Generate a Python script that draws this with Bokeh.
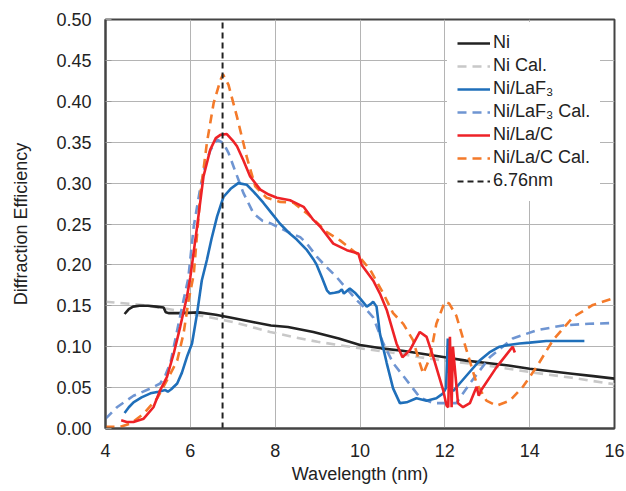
from bokeh.plotting import figure
from bokeh.models import (Range1d, FixedTicker, NumeralTickFormatter, Legend, LegendItem)
from bokeh.embed import file_html
from bokeh.resources import INLINE

# ---------------- data ----------------
ni_x = [4.45, 4.55, 4.65, 4.8, 5.0, 5.2, 5.37, 5.42, 5.5, 5.8, 6.2, 6.6, 7.0, 7.5, 7.9,
        8.3, 8.9, 9.5, 10.0, 10.5, 11.0, 11.5, 12.0, 12.5, 13.0, 13.5, 14.0, 14.5, 15.0,
        15.5, 16.0]
ni_y = [0.140, 0.146, 0.149, 0.150, 0.150, 0.149, 0.148, 0.142, 0.141, 0.141, 0.142,
        0.139, 0.135, 0.130, 0.126, 0.124, 0.118, 0.110, 0.102, 0.098, 0.095, 0.091,
        0.087, 0.083, 0.080, 0.077, 0.073, 0.070, 0.067, 0.064, 0.061]

nical_x = [4.0, 4.66, 5.0, 5.84, 6.24, 7.02, 7.88, 8.5, 9.0, 10.0, 11.0, 11.41, 12.0,
           13.0, 14.0, 15.0, 16.0]
nical_y = [0.155, 0.152, 0.150, 0.143, 0.138, 0.130, 0.118, 0.111, 0.106, 0.098, 0.091,
           0.087, 0.083, 0.077, 0.069, 0.062, 0.054]

laf3_x = [4.45, 4.55, 4.66, 4.85, 5.06, 5.25, 5.41, 5.47, 5.55, 5.69, 5.8, 5.93, 6.04,
          6.16, 6.27, 6.39, 6.5, 6.63, 6.78, 6.95, 7.13, 7.33, 7.5, 7.72, 7.92, 8.12,
          8.35, 8.51, 8.75, 8.9, 8.98, 9.1, 9.22, 9.29, 9.4, 9.5, 9.57, 9.62, 9.76, 9.88,
          10.0, 10.16, 10.25, 10.31, 10.39, 10.47, 10.55, 10.63, 10.78, 10.94, 11.1,
          11.33, 11.57, 11.8, 11.96, 12.03, 12.07, 12.12, 12.2, 12.35, 12.6, 12.82, 13.05,
          13.29, 13.5, 13.76, 14.0, 14.39, 14.8, 15.29]
laf3_y = [0.019, 0.026, 0.032, 0.038, 0.043, 0.045, 0.047, 0.045, 0.048, 0.055, 0.068,
          0.089, 0.104, 0.141, 0.181, 0.206, 0.232, 0.259, 0.283, 0.293, 0.300, 0.298,
          0.289, 0.276, 0.263, 0.250, 0.238, 0.231, 0.218, 0.207, 0.200, 0.185, 0.169,
          0.165, 0.166, 0.167, 0.170, 0.165, 0.171, 0.166, 0.159, 0.149, 0.152, 0.155,
          0.149, 0.116, 0.098, 0.080, 0.049, 0.031, 0.032, 0.037, 0.034, 0.037, 0.043,
          0.050, 0.110, 0.050, 0.046, 0.055, 0.070, 0.083, 0.093, 0.100, 0.102, 0.104,
          0.105, 0.107, 0.107, 0.107]

laf3cal_x = [4.0, 4.04, 4.27, 4.66, 5.06, 5.29, 5.41, 5.53, 5.69, 5.84, 5.95, 6.08, 6.24,
             6.35, 6.47, 6.63, 6.78, 6.9, 7.02, 7.25, 7.49, 7.7, 7.88, 8.12, 8.35, 8.59,
             8.75, 8.98, 9.2, 9.45, 9.7, 9.92, 10.1, 10.31, 10.55, 10.78, 11.1, 11.41,
             11.73, 12.04, 12.27, 12.59, 13.06, 13.6, 14.16, 14.78, 15.4, 16.0]
laf3cal_y = [0.012, 0.014, 0.026, 0.040, 0.049, 0.055, 0.065, 0.080, 0.120, 0.157, 0.183,
             0.247, 0.296, 0.322, 0.340, 0.353, 0.349, 0.337, 0.320, 0.288, 0.263, 0.254,
             0.251, 0.245, 0.239, 0.234, 0.226, 0.210, 0.198, 0.185, 0.170, 0.157, 0.148,
             0.136, 0.104, 0.080, 0.059, 0.038, 0.031, 0.031, 0.031, 0.055, 0.087, 0.110,
             0.120, 0.126, 0.128, 0.129]

lac_x = [4.37, 4.5, 4.66, 4.9, 5.13, 5.29, 5.45, 5.61, 5.76, 5.92, 6.0, 6.16, 6.31, 6.47,
         6.6, 6.71, 6.86, 7.0, 7.1, 7.25, 7.41, 7.65, 7.85, 8.04, 8.35, 8.43, 8.67, 8.9,
         9.06, 9.37, 9.69, 9.96, 10.04, 10.31, 10.47, 10.63, 10.86, 11.0, 11.18, 11.41,
         11.57, 11.73, 11.96, 12.04, 12.08, 12.12, 12.16, 12.19, 12.31, 12.43, 12.59,
         12.7, 12.75, 12.8, 12.86, 13.22, 13.6, 13.65]
lac_y = [0.010, 0.008, 0.008, 0.012, 0.026, 0.047, 0.063, 0.092, 0.124, 0.161, 0.185,
         0.247, 0.308, 0.341, 0.355, 0.359, 0.360, 0.352, 0.345, 0.328, 0.308, 0.292,
         0.286, 0.282, 0.279, 0.277, 0.271, 0.255, 0.247, 0.226, 0.218, 0.214, 0.200,
         0.181, 0.165, 0.145, 0.104, 0.087, 0.096, 0.118, 0.112, 0.087, 0.047, 0.028,
         0.026, 0.112, 0.026, 0.100, 0.031, 0.026, 0.031, 0.045, 0.051, 0.040, 0.047,
         0.075, 0.100, 0.093]

laccal_x = [4.0, 4.35, 4.59, 4.9, 5.22, 5.45, 5.69, 5.84, 5.96, 6.08, 6.24, 6.39, 6.55,
            6.71, 6.77, 6.9, 7.1, 7.33, 7.53, 7.8, 8.12, 8.43, 8.75, 9.06, 9.13, 9.53,
            9.92, 10.24, 10.55, 10.78, 11.02, 11.25, 11.41, 11.49, 11.65, 11.8, 12.0,
            12.1, 12.27, 12.51, 12.75, 12.98, 13.22, 13.53, 13.84, 14.16, 14.55, 15.02,
            15.49, 15.96]
laccal_y = [0.002, 0.002, 0.006, 0.018, 0.037, 0.059, 0.083, 0.116, 0.157, 0.188, 0.288,
            0.349, 0.398, 0.426, 0.433, 0.420, 0.381, 0.332, 0.296, 0.282, 0.277, 0.276,
            0.263, 0.248, 0.243, 0.230, 0.214, 0.194, 0.165, 0.141, 0.128, 0.108, 0.080,
            0.067, 0.087, 0.128, 0.155, 0.153, 0.138, 0.096, 0.055, 0.034, 0.028, 0.034,
            0.051, 0.075, 0.108, 0.136, 0.151, 0.159]

mark_wl = 6.76
x_limits = [4, 16]
y_limits = [0.0, 0.5]
x_ticks = [4, 6, 8, 10, 12, 14, 16]
y_ticks = [0.0, 0.05, 0.10, 0.15, 0.20, 0.25, 0.30, 0.35, 0.40, 0.45, 0.50]

labels = ["Ni", "Ni Cal.", "Ni/LaF\u2083", "Ni/LaF\u2083 Cal.", "Ni/La/C", "Ni/La/C Cal.",
          "6.76nm"]

# ---------------- figure ----------------
FONT = "Liberation Sans"
p = figure(width=626, height=491, output_backend="svg", toolbar_location=None,
           x_range=Range1d(*x_limits), y_range=Range1d(*y_limits),
           min_border_left=105, min_border_right=12, min_border_top=19,
           min_border_bottom=63)
p.outline_line_color = "#444444"
p.outline_line_width = 2

p.xaxis.ticker = FixedTicker(ticks=x_ticks)
p.yaxis.ticker = FixedTicker(ticks=y_ticks)
p.yaxis.formatter = NumeralTickFormatter(format="0.00")
for ax in (p.xaxis[0], p.yaxis[0]):
    ax.axis_line_color = "#444444"
    ax.axis_line_width = 2
    ax.major_tick_out = 0
    ax.minor_tick_out = 0
    ax.minor_tick_in = 0
    ax.major_label_text_font = FONT
    ax.major_label_text_font_size = "18px"
    ax.major_label_text_color = "#222222"
    ax.axis_label_text_font = FONT
    ax.axis_label_text_font_size = "18px"
    ax.axis_label_text_font_style = "normal"
    ax.axis_label_text_color = "#222222"
p.xaxis.major_tick_in = 0
p.yaxis.major_tick_in = 6
p.yaxis.major_tick_line_color = "#999999"
p.xaxis.major_label_standoff = 15
p.yaxis.major_label_standoff = 14
p.xaxis.axis_label = "Wavelength (nm)"
p.yaxis.axis_label = "Diffraction Efficiency"
p.xaxis.axis_label_standoff = 4
p.yaxis.axis_label_standoff = 22

p.xgrid.ticker = FixedTicker(ticks=x_ticks)
p.ygrid.ticker = FixedTicker(ticks=y_ticks)
p.grid.grid_line_color = "#b4b4b4"
p.grid.grid_line_width = 1

W = 2.6
r_nical = p.line(nical_x, nical_y, line_color="#c8c8c8", line_width=W, line_dash="9 6")
r_ni = p.line(ni_x, ni_y, line_color="#222222", line_width=W)
r_lfcal = p.line(laf3cal_x, laf3cal_y, line_color="#6f95d2", line_width=W, line_dash="9 6")
r_lf = p.line(laf3_x, laf3_y, line_color="#1f6fba", line_width=W)
r_lccal = p.line(laccal_x, laccal_y, line_color="#f47a2a", line_width=W, line_dash="9 6")
r_lc = p.line(lac_x, lac_y, line_color="#ee2227", line_width=W)
r_mark = p.line([mark_wl, mark_wl], y_limits, line_color="#222222", line_width=2,
                line_dash="6 4")

rends = [r_ni, r_nical, r_lf, r_lfcal, r_lc, r_lccal, r_mark]
legend = Legend(items=[LegendItem(label=l, renderers=[r]) for l, r in zip(labels, rends)],
                location=(342, 227), padding=10, spacing=2, glyph_width=33,
                glyph_height=20, label_height=20, label_standoff=3,
                label_text_font=FONT, label_text_font_size="18px",
                label_text_color="#222222", border_line_alpha=0,
                background_fill_color="white", background_fill_alpha=1.0)
p.add_layout(legend)

open("out.html", "w").write(file_html(p, INLINE))
